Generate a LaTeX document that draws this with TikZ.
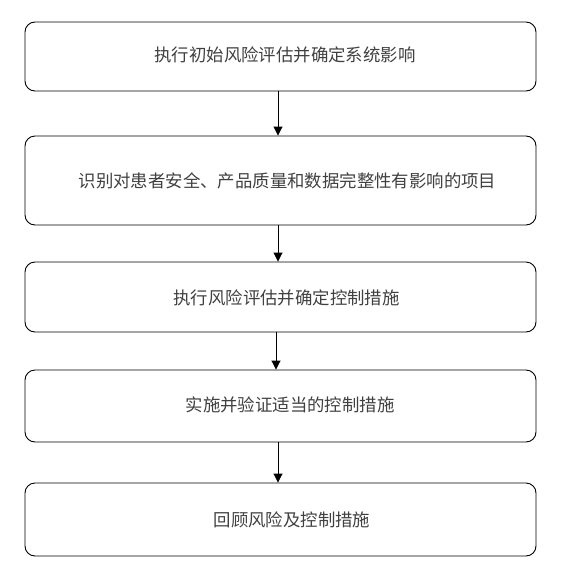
\documentclass[tikz,border=0pt]{standalone}
\usepackage{fontspec}
\newfontfamily\cjk{Noto Sans CJK SC}
\usetikzlibrary{arrows.meta}
\tikzset{
  box/.style={draw=black, line width=0.9pt, rounded corners=10pt, minimum width=511pt, inner sep=0pt},
  txt/.style={font=\cjk\fontsize{17.4pt}{19pt}\selectfont, inner sep=0pt, text=black!75},
  arr/.style={line width=0.9pt, -{Triangle[width=9pt,length=9pt]}}
}
\begin{document}
\begin{tikzpicture}[x=1pt,y=-1pt]
\useasboundingbox (0,0) rectangle (569,581);
\node[box, minimum height=69pt] (b1) at (280.5,56.5) {};
\node[box, minimum height=89pt] (b2) at (280.5,180.5) {};
\node[box, minimum height=70pt] (b3) at (280.5,297) {};
\node[box, minimum height=72pt] (b4) at (280.5,406) {};
\node[box, minimum height=73pt] (b5) at (280.5,519.5) {};
\node[txt] (t1) at (285,55) {执行初始风险评估并确定系统影响};
\node[txt] (t2) at (287.5,181) {识别对患者安全、产品质量和数据完整性有影响的项目};
\node[txt] (t3) at (286.5,298) {执行风险评估并确定控制措施};
\node[txt] (t4) at (290,405) {实施并验证适当的控制措施};
\node[txt] (t5) at (292,520) {回顾风险及控制措施};
\draw[arr] ([xshift=-2.5pt]b1.south) -- ([xshift=-2.5pt]b2.north);
\draw[arr] ([xshift=-2.5pt]b2.south) -- ([xshift=-2.5pt]b3.north);
\draw[arr] ([xshift=-4.5pt]b3.south) -- ([xshift=-4.5pt]b4.north);
\draw[arr] ([xshift=-2.5pt]b4.south) -- ([xshift=-2.5pt]b5.north);
\end{tikzpicture}
\end{document}
